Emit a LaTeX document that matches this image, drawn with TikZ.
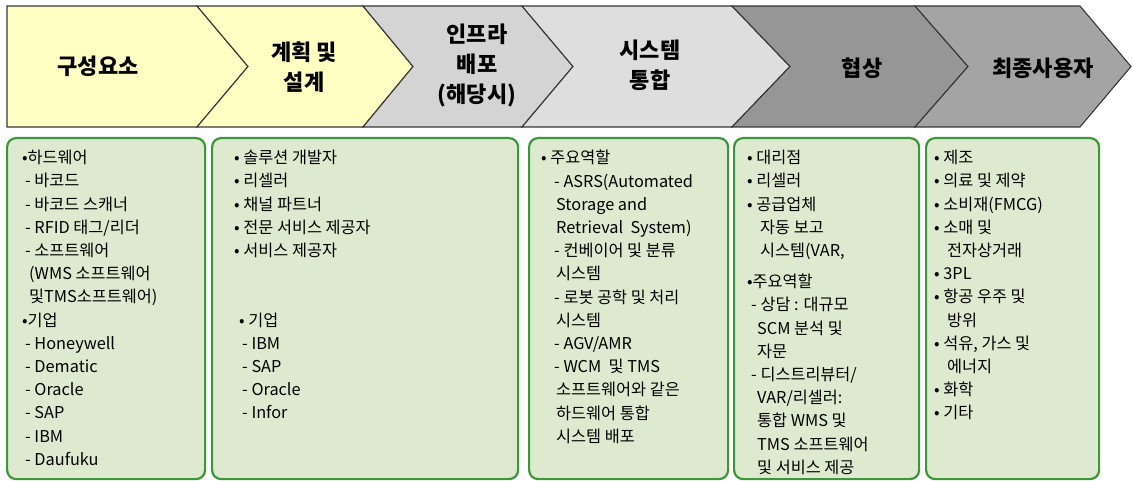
\documentclass[tikz,border=0pt]{standalone}
\usepackage{fontspec}
\newfontfamily\kr{Noto Sans CJK KR}
\usetikzlibrary{positioning}

\definecolor{stageline}{RGB}{55,55,55}
\definecolor{stageyellow}{RGB}{255,255,196}
\definecolor{stagegrayA}{RGB}{212,212,212}
\definecolor{stagegrayB}{RGB}{222,222,222}
\definecolor{stagedarkA}{RGB}{150,150,150}
\definecolor{stagedarkB}{RGB}{164,164,164}
\definecolor{panelgreen}{RGB}{62,150,58}
\definecolor{panelfill}{RGB}{222,234,208}

\tikzset{
  stage/.style={draw=stageline, line width=1.1pt, line join=miter},
  stagetext/.style={font=\kr\bfseries\fontsize{22}{30}\selectfont, align=center, inner sep=0pt},
  panel/.style={draw=panelgreen, line width=2.2pt, fill=panelfill, rounded corners=9pt, anchor=north west, minimum height=341pt},
  paneltext/.style={font=\kr\fontsize{16.3}{23.2}\selectfont, align=left, anchor=north west, inner sep=0pt}
}

\begin{document}
\begin{tikzpicture}[x=1pt, y=-1pt]
  \useasboundingbox (0,0) rectangle (1133,481);

  % stages
  \draw[stage, fill=stageyellow] (7,6) -- (197,6) -- (248,66.5) -- (197,127) -- (7,127) -- cycle;
  \draw[stage, fill=stageyellow] (197,6) -- (363,6) -- (413,66.5) -- (363,127) -- (197,127) -- (248,66.5) -- cycle;
  \draw[stage, fill=stagegrayA] (363,6) -- (522,6) -- (573,66.5) -- (522,127) -- (363,127) -- (413,66.5) -- cycle;
  \draw[stage, fill=stagegrayB] (522,6) -- (732,6) -- (790,66.5) -- (732,127) -- (522,127) -- (573,66.5) -- cycle;
  \draw[stage, fill=stagedarkA] (732,6) -- (915,6) -- (968,66.5) -- (915,127) -- (732,127) -- (790,66.5) -- cycle;
  \draw[stage, fill=stagedarkB] (915,6) -- (1080,6) -- (1131,66.5) -- (1080,127) -- (915,127) -- (968,66.5) -- cycle;

  \node[stagetext] (parts) at (98,66) {구성요소};
  \node[stagetext] (design) at (304,67) {계획 및\\설계};
  \node[stagetext] (infra) at (477,65) {인프라\\배포\\(해당시)};
  \node[stagetext] (integ) at (650,65) {시스템\\통합};
  \node[stagetext] (deal) at (862,68) {협상};
  \node[stagetext] (users) at (1043,68) {최종사용자};

  % panels
  \node[panel, minimum width=198pt] (box1) at (6,137) {};
  \node[panel, minimum width=306pt] (box2) at (211,137) {};
  \node[panel, minimum width=199pt] (box3) at (528,137) {};
  \node[panel, minimum width=185pt] (box4) at (733,137) {};
  \node[panel, minimum width=173pt] (box5) at (925,137) {};

  \node[paneltext] (list1) at (22,150) {•하드웨어\\
    \hspace*{3pt}- 바코드\\
    \hspace*{3pt}- 바코드 스캐너\\
    \hspace*{3pt}- RFID 태그/리더\\
    \hspace*{3pt}- 소프트웨어\\
    \hspace*{7pt}(WMS 소프트웨어\\
    \hspace*{7pt}및TMS소프트웨어)\\
    •기업\\
    \hspace*{3pt}- Honeywell\\
    \hspace*{3pt}- Dematic\\
    \hspace*{3pt}- Oracle\\
    \hspace*{3pt}- SAP\\
    \hspace*{3pt}- IBM\\
    \hspace*{3pt}- Daufuku};

  \node[paneltext] (list2) at (234,150) {• 솔루션 개발자\\
    • 리셀러\\
    • 채널 파트너\\
    • 전문 서비스 제공자\\
    • 서비스 제공자\\
    \mbox{}\\
    \mbox{}\\
    \hspace*{5pt}• 기업\\
    \hspace*{8pt}- IBM\\
    \hspace*{8pt}- SAP\\
    \hspace*{8pt}- Oracle\\
    \hspace*{8pt}- Infor};

  \node[paneltext] (list3) at (541,150) {• 주요역할\\
    \hspace*{13pt}- ASRS(Automated\\
    \hspace*{15pt}Storage and\\
    \hspace*{15pt}Retrieval\ \ System)\\
    \hspace*{13pt}- 컨베이어 및 분류\\
    \hspace*{15pt}시스템\\
    \hspace*{13pt}- 로봇 공학 및 처리\\
    \hspace*{15pt}시스템\\
    \hspace*{13pt}- AGV/AMR\\
    \hspace*{13pt}- WCM\ \ 및 TMS\\
    \hspace*{15pt}소프트웨어와 같은\\
    \hspace*{15pt}하드웨어 통합\\
    \hspace*{15pt}시스템 배포};

  \node[paneltext] (list4) at (747,150) {• 대리점\\
    • 리셀러\\
    • 공급업체\\
    \hspace*{13pt}자동 보고\\
    \hspace*{13pt}시스템(VAR,\\[8pt]
    •주요역할\\
    \hspace*{4pt}- 상담 : 대규모\\
    \hspace*{10pt}SCM 분석 및\\
    \hspace*{10pt}자문\\
    \hspace*{4pt}- 디스트리뷰터/\\
    \hspace*{10pt}VAR/리셀러:\\
    \hspace*{10pt}통합 WMS 및\\
    \hspace*{10pt}TMS 소프트웨어\\
    \hspace*{10pt}및 서비스 제공};

  \node[paneltext] (list5) at (934,150) {• 제조\\
    • 의료 및 제약\\
    • 소비재(FMCG)\\
    • 소매 및\\
    \hspace*{13pt}전자상거래\\
    • 3PL\\
    • 항공 우주 및\\
    \hspace*{13pt}방위\\
    • 석유, 가스 및\\
    \hspace*{13pt}에너지\\
    • 화학\\
    • 기타};
\end{tikzpicture}
\end{document}
